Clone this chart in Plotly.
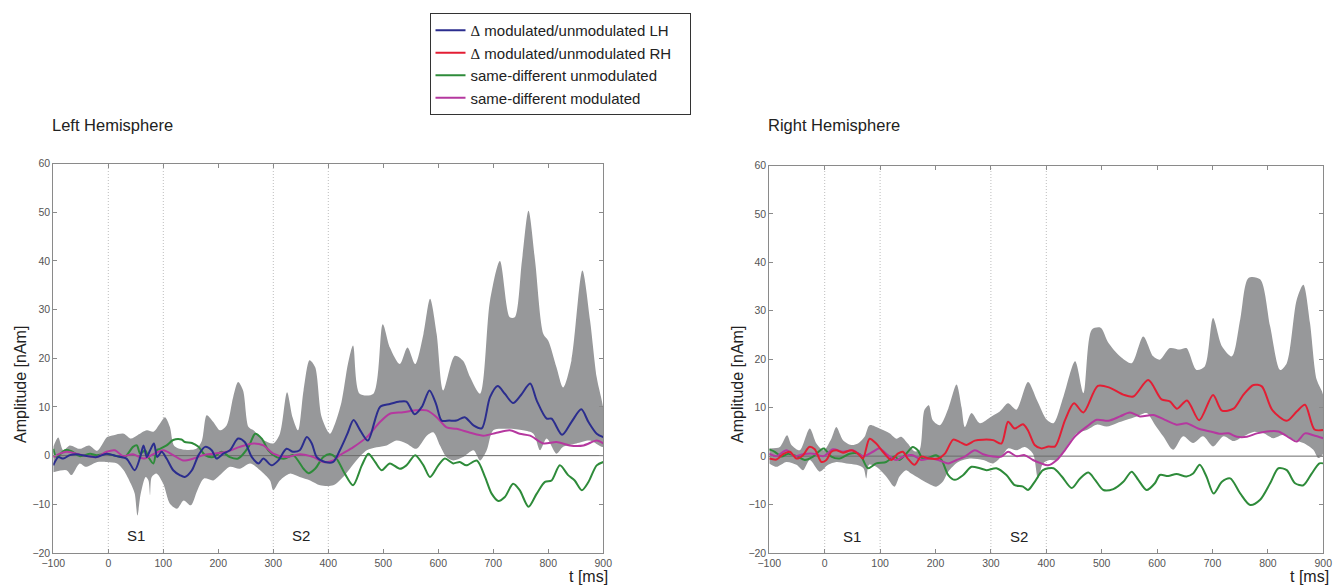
import plotly.graph_objects as go

# ---------------- data ----------------
# Left hemisphere: grey band (upper / lower bound)
lh_band_up_t = [-100, -91, -82, -70, -52, -35, -20, -2, 10, 28, 41, 53, 70, 82, 94, 103, 112, 120, 140, 160,
                170, 179, 191, 203, 215, 227, 236, 245, 255, 264, 282, 300, 312, 325, 335, 345, 355, 366, 376,
                388, 403, 412, 424, 436, 445, 457, 482, 499, 512, 530, 544, 558, 573, 585, 597, 609, 630, 645,
                658, 676, 694, 712, 730, 739, 752, 764, 776, 791, 800, 815, 827, 842, 862, 876, 888, 900]
lh_band_up_v = [1.8, 3.7, 1.1, 2.1, 1.4, 2.1, 1.0, 3.8, 4.2, 4.5, 3.5, 4.2, 5.2, 4.9, 6.6, 7.9, 5.9, 2.0, 1.2, 1.4,
                3.0, 8.3, 6.9, 5.2, 6.2, 12.0, 15.1, 13.4, 5.9, 5.2, 3.2, 2.5, 4.5, 13.0, 7.9, 5.2, 13.4, 19.6, 18.2,
                7.9, 4.5, 6.5, 11.0, 19.0, 22.6, 12.7, 12.7, 27.0, 22.2, 18.8, 22.2, 18.8, 25.0, 32.2, 25.0, 13.4, 20.5, 19.5,
                16.1, 12.7, 31.8, 40.0, 28.4, 28.4, 40.0, 50.3, 40.0, 25.0, 23.6, 18.1, 14.0, 19.5, 38.0, 27.7, 16.1, 9.5]
lh_band_lo_t = [-100, -76, -67, -52, -41, -20, -2, 16, 28, 41, 48, 53, 59, 68, 73, 76, 79, 88, 100, 112, 125, 137,
                150, 162, 174, 191, 203, 221, 239, 258, 276, 294, 300, 312, 330, 348, 367, 385, 409, 427, 451, 470,
                488, 506, 524, 542, 560, 579, 591, 603, 615, 627, 645, 664, 676, 688, 700, 724, 754, 773, 785, 797,
                815, 827, 851, 876, 900]
lh_band_lo_v = [-3.4, -3.0, -4.0, -1.6, -2.3, -1.3, -1.3, -1.6, -3.0, -5.8, -7.8, -12.3, -7.8, -4.4, -5.1, -8.2, -4.4, -3.7, -5.8, -9.9, -10.9, -9.2,
                -10.2, -7.1, -4.7, -5.1, -4.0, -2.3, -2.7, -1.6, -3.0, -5.1, -7.1, -5.1, -3.7, -4.4, -5.1, -6.1, -6.1, -4.4, -1.0, 1.1,
                1.7, 2.1, 3.1, 2.5, 1.4, 4.1, 4.8, 2.1, -0.3, -1.0, -0.3, 1.1, -1.0, 1.1, 5.2, 5.5, 5.2, 4.5, 1.1, 3.5,
                0.4, 1.8, 2.5, 3.1, 1.8]

# Left hemisphere: delta modulated/unmodulated LH (blue)
lh_delta_t = [-100, -91, -82, -70, -58, -39, -21, -3, 15, 33, 48, 58, 64, 70, 76, 83, 89, 97, 106, 118, 130, 139, 152,
              164, 176, 188, 197, 209, 221, 236, 248, 261, 273, 282, 297, 309, 324, 336, 348, 361, 370, 379, 394, 409,
              421, 434, 446, 458, 472, 494, 512, 530, 542, 557, 570, 584, 596, 606, 620, 633, 648, 664, 679, 694, 708,
              721, 736, 750, 767, 779, 797, 806, 825, 842, 860, 873, 888, 900]
lh_delta_v = [-2.0, -0.3, -0.6, 0.1, 0.3, -0.1, -0.3, 0.4, -0.1, -0.6, -3.0, -0.3, 2.1, -0.3, 1.1, 2.5, -0.3, 0.8, -0.6, -3.0, -4.0, -4.4, -3.0,
              0.1, 1.8, 1.1, -0.6, 0.4, 1.1, 3.5, 2.8, -0.3, -1.6, -0.6, -2.0, -1.0, 1.4, 0.8, 1.1, 3.8, 2.5, -0.3, -1.3, -1.3,
              1.1, 4.3, 7.3, 5.2, 3.1, 10.0, 10.6, 11.1, 11.1, 8.5, 10.0, 13.4, 10.6, 7.2, 7.2, 7.2, 7.9, 6.2, 5.6, 12.0, 14.3,
              12.7, 10.8, 12.4, 14.8, 11.3, 7.6, 7.6, 4.3, 6.9, 9.5, 6.9, 4.5, 3.8]

# Left hemisphere: same-different modulated (magenta)
lh_sdmod_t = [-100, -88, -76, -58, -39, -21, -3, 12, 27, 45, 64, 82, 100, 118, 136, 155, 173, 191, 215, 239, 264, 282,
              300, 324, 348, 373, 391, 409, 421, 445, 470, 494, 512, 536, 558, 579, 597, 615, 633, 658, 682, 706, 730,
              748, 767, 791, 815, 839, 864, 888, 900]
lh_sdmod_v = [-0.3, 0.4, 0.8, 0.4, -0.1, -0.3, 0.8, 1.1, -0.1, 0.3, -0.6, 0.3, 1.1, 0.1, -1.0, -0.6, 0.1, 0.4, 0.8, 1.8, 2.5, 2.1,
              0.4, -0.3, 0.3, -0.3, -1.3, -1.0, 0.1, 1.7, 3.8, 6.9, 8.6, 8.9, 9.3, 9.3, 7.9, 5.8, 5.5, 4.7, 4.1, 4.7, 5.2,
              4.5, 4.1, 2.5, 2.8, 2.1, 2.1, 3.1, 2.5]

# Left hemisphere: same-different unmodulated (green)
lh_sdunmod_t = [-100, -94, -79, -67, -52, -33, -21, -3, 15, 30, 45, 52, 58, 67, 73, 82, 88, 94, 106, 118, 133, 139, 152,
                164, 176, 191, 206, 221, 236, 255, 267, 279, 291, 306, 321, 336, 355, 364, 376, 391, 404, 415, 430, 445,
                461, 473, 485, 497, 512, 530, 542, 558, 573, 585, 600, 612, 627, 639, 651, 670, 685, 697, 709, 721, 736,
                748, 764, 779, 794, 806, 821, 836, 848, 861, 873, 888, 900]
lh_sdunmod_v = [1.4, -0.3, 1.1, 0.9, -0.1, 0.4, 0.1, 0.4, -0.1, -0.3, 1.8, 2.1, 0.4, 1.1, -0.3, -1.6, 1.1, 1.4, 2.1, 3.2, 3.3, 2.8, 2.6,
                1.8, 0.1, -0.3, 0.8, -0.3, -0.6, 1.8, 4.5, 3.5, 1.1, -0.3, -0.6, 0.1, -2.7, -3.6, -2.7, -0.3, 0.3, -0.6, -3.7, -6.1,
                -2.0, 0.4, -1.3, -3.0, -1.6, -2.7, -2.0, 0.1, -2.0, -4.4, -2.0, -0.6, -1.6, -1.3, -2.0, -1.0, -4.4, -7.8, -9.3, -8.5, -5.8,
                -7.1, -10.5, -7.8, -5.4, -5.1, -2.0, -4.0, -5.1, -7.1, -5.4, -2.0, -1.3]

# Right hemisphere: grey band
rh_band_up_t = [-100, -81, -68, -60, -45, -27, -15, -2, 12, 21, 33, 48, 60, 72, 81, 99, 117, 129, 138, 150, 162, 171,
                180, 188, 195, 208, 223, 238, 247, 253, 265, 280, 301, 316, 331, 346, 367, 383, 401, 413, 431, 452,
                467, 482, 498, 512, 533, 554, 575, 593, 605, 623, 641, 653, 671, 686, 701, 717, 735, 750, 765, 786,
                804, 822, 834, 852, 864, 876, 888, 900]
rh_band_up_v = [1.6, 1.9, 4.3, 2.3, 1.2, 5.7, 2.6, 1.2, 3.6, 6.0, 3.3, 2.3, 2.6, 4.0, 6.4, 5.7, 4.7, 3.6, 4.0, 2.6, 1.0, 1.2,
                9.5, 10.5, 7.4, 6.4, 9.8, 14.8, 10.1, 6.0, 8.9, 6.8, 8.2, 9.2, 10.9, 9.6, 15.3, 11.6, 7.5, 6.8, 12.3, 19.6,
                13.0, 26.1, 26.5, 23.4, 20.6, 19.2, 24.7, 20.6, 19.9, 22.3, 22.0, 22.3, 17.8, 18.5, 28.5, 22.7, 20.6, 28.2, 36.8, 36.5,
                26.8, 17.8, 19.2, 32.3, 35.4, 27.5, 15.8, 12.5]
rh_band_lo_t = [-100, -87, -69, -51, -39, -27, -9, 6, 21, 39, 57, 70, 75, 80, 93, 111, 126, 135, 147, 156, 171, 186,
                201, 213, 223, 241, 262, 286, 304, 319, 331, 346, 361, 376, 385, 394, 406, 419, 437, 455, 473, 491,
                509, 527, 545, 563, 581, 596, 611, 629, 647, 665, 683, 701, 720, 738, 756, 774, 792, 810, 828, 846,
                864, 882, 891, 900]
rh_band_lo_v = [-1.5, -2.2, -1.2, -1.8, -2.9, -0.8, -3.2, -1.8, -1.2, -1.5, -1.8, -2.5, -4.6, -1.8, -2.2, -4.2, -6.3, -4.2, -2.9, -3.6, -4.6, -5.6,
                -6.3, -5.3, -3.2, -1.2, -0.5, -0.8, -1.5, -0.1, 1.6, 1.2, 1.9, 0.5, -4.6, -1.5, -0.8, -0.8, 2.0, 4.7, 5.4, 6.5,
                6.1, 6.8, 7.5, 8.2, 8.9, 6.5, 4.1, 1.3, 4.1, 2.7, 4.1, 2.0, 4.1, 3.1, 4.1, 5.0, 4.7, 3.7, 4.4, 3.4,
                2.7, 1.3, -0.4, 0.6]

# Right hemisphere: delta modulated/unmodulated RH (red)
rh_delta_t = [-100, -87, -75, -63, -51, -39, -28, -18, -6, 3, 12, 21, 33, 48, 60, 69, 81, 93, 105, 120, 132, 141, 150,
              162, 174, 189, 205, 217, 232, 244, 256, 271, 286, 304, 319, 331, 343, 358, 367, 379, 391, 404, 416, 434,
              450, 467, 493, 515, 539, 557, 584, 608, 623, 636, 654, 676, 701, 717, 738, 756, 774, 789, 808, 834, 852,
              867, 884, 900]
rh_delta_v = [-0.5, -0.7, 0.4, 0.9, -0.5, 0.2, 1.9, 1.4, -1.2, -0.8, 0.9, 1.2, 0.7, 1.2, 0.5, -0.5, 3.6, 2.6, 0.9, -0.8, 0.5, 0.9, -0.5,
              -1.8, -0.1, -0.5, -0.5, 0.5, 3.4, 2.9, 2.3, 3.2, 3.4, 3.3, 2.6, 7.1, 5.7, 6.6, 5.3, 2.3, 1.6, 2.0, 2.0, 7.5,
              10.9, 9.0, 14.5, 14.1, 12.7, 12.3, 15.7, 11.7, 11.3, 9.8, 11.5, 7.4, 12.6, 9.4, 9.8, 12.7, 14.7, 14.4, 9.5, 7.3, 9.2,
              10.6, 5.5, 5.4]

# Right hemisphere: same-different modulated (magenta)
rh_sdmod_t = [-100, -87, -69, -54, -39, -21, -2, 15, 33, 51, 69, 87, 99, 114, 129, 144, 159, 174, 189, 205, 223, 238,
              253, 271, 286, 304, 319, 331, 346, 361, 376, 391, 403, 419, 434, 452, 473, 491, 512, 533, 551, 569, 593,
              614, 635, 653, 674, 696, 714, 729, 744, 762, 780, 798, 819, 840, 852, 867, 882, 900]
rh_sdmod_v = [0.5, 0.0, 1.2, 0.0, 0.4, 0.5, 0.0, 1.4, 0.9, 1.2, 0.0, 0.9, 1.6, 0.2, -0.8, 0.0, 0.2, -0.8, -0.5, -0.8, -1.5, -0.8,
              -0.1, 1.2, 0.4, -0.1, -0.1, 0.9, 0.0, 0.2, -0.8, -1.5, -1.9, -0.8, 1.3, 4.1, 6.1, 7.5, 7.3, 8.2, 9.0, 8.2, 8.5,
              7.5, 6.5, 6.8, 5.7, 5.1, 4.6, 4.7, 4.0, 4.0, 4.7, 5.1, 5.1, 3.7, 3.0, 4.7, 4.3, 3.7]

# Right hemisphere: same-different unmodulated (green)
rh_sdunmod_t = [-100, -90, -78, -66, -51, -36, -21, -2, 12, 27, 45, 63, 78, 93, 111, 126, 135, 147, 159, 168, 177, 189,
                201, 211, 223, 235, 250, 265, 280, 292, 310, 328, 343, 358, 367, 379, 394, 413, 428, 446, 461, 476,
                488, 503, 521, 539, 554, 566, 581, 596, 605, 620, 635, 653, 665, 677, 689, 702, 717, 732, 750, 768,
                786, 804, 819, 834, 849, 864, 879, 893, 900]
rh_sdunmod_v = [1.4, 0.9, -0.1, 0.5, 0.0, -0.8, -0.1, 1.6, -0.1, -0.5, 0.5, 0.4, -2.5, -1.5, -1.2, -0.1, -0.8, 0.5, 1.9, 1.2, -0.5, -0.3,
                0.2, -0.8, -3.9, -4.9, -3.9, -2.2, -2.5, -2.9, -2.5, -3.9, -6.0, -6.3, -7.0, -5.3, -2.9, -2.5, -4.2, -6.6, -4.6, -3.4,
                -4.9, -7.0, -6.8, -5.3, -3.2, -4.9, -7.0, -5.6, -3.9, -4.1, -3.7, -4.2, -3.6, -1.8, -4.2, -7.7, -5.3, -4.6, -7.7, -10.1,
                -9.0, -5.6, -2.5, -2.9, -5.6, -6.0, -3.6, -1.5, -1.5]

# axes / labels
x_range = [-100, 900]
y_range = [-20, 60]
x_ticks = list(range(-100, 901, 100))
y_ticks = list(range(-20, 61, 10))
event_times = [0, 100, 300, 400]
stim_labels = ["S1", "S2"]
stim_label_t = [50, 350]
stim_label_v = -16.5

legend_names = [
    "<span style='font-family:Liberation Serif'>\u0394</span> modulated/unmodulated LH",
    "<span style='font-family:Liberation Serif'>\u0394</span> modulated/unmodulated RH&nbsp;&nbsp;&nbsp;",
    "same-different unmodulated",
    "same-different modulated",
]

# ---------------- style ----------------
FONT = "Liberation Sans, Arial, sans-serif"
BAND = "#97989a"
BLUE = "#2b2d8e"
RED = "#e31e34"
GREEN = "#2e8b3a"
MAGENTA = "#b5389f"
AXC = "#8a8a8a"

fig = go.Figure()


def band(t_up, v_up, t_lo, v_lo, xa, ya):
    fig.add_trace(go.Scatter(
        x=t_up + t_lo[::-1], y=v_up + v_lo[::-1],
        fill="toself", fillcolor=BAND, mode="lines",
        line=dict(width=0, color=BAND, shape="spline", smoothing=0.8),
        showlegend=False, hoverinfo="skip", xaxis=xa, yaxis=ya))


def zero_line(xa, ya):
    fig.add_trace(go.Scatter(x=x_range, y=[0, 0], mode="lines",
                             line=dict(color="#6b6b6b", width=1),
                             showlegend=False, hoverinfo="skip", xaxis=xa, yaxis=ya))


def curve(t, v, name, color, xa, ya, show, rank):
    fig.add_trace(go.Scatter(
        x=t, y=v, name=name, mode="lines",
        line=dict(color=color, width=2, shape="spline", smoothing=0.8),
        showlegend=show, legendrank=rank, xaxis=xa, yaxis=ya))


# left panel
band(lh_band_up_t, lh_band_up_v, lh_band_lo_t, lh_band_lo_v, "x", "y")
zero_line("x", "y")
curve(lh_sdunmod_t, lh_sdunmod_v, legend_names[2], GREEN, "x", "y", True, 3)
curve(lh_sdmod_t, lh_sdmod_v, legend_names[3], MAGENTA, "x", "y", True, 4)
curve(lh_delta_t, lh_delta_v, legend_names[0], BLUE, "x", "y", True, 1)

# right panel
band(rh_band_up_t, rh_band_up_v, rh_band_lo_t, rh_band_lo_v, "x2", "y2")
zero_line("x2", "y2")
curve(rh_sdunmod_t, rh_sdunmod_v, legend_names[2], GREEN, "x2", "y2", False, 3)
curve(rh_sdmod_t, rh_sdmod_v, legend_names[3], MAGENTA, "x2", "y2", False, 4)
curve(rh_delta_t, rh_delta_v, legend_names[1], RED, "x2", "y2", True, 2)

W, H = 1339, 586
axis_common = dict(showline=True, linecolor=AXC, linewidth=1, mirror="allticks",
                   ticks="inside", ticklen=4, tickcolor=AXC, showgrid=False, zeroline=False,
                   tickfont=dict(family=FONT, size=10.5, color="#555555"), automargin=False)

left_x = [53.3 / W, 603.3 / W]
right_x = [769.3 / W, 1323.3 / W]
dom_y = [(H - 553) / H, (H - 163.5) / H]
dom_y2 = [(H - 553) / H, (H - 165.5) / H]

fig.update_layout(
    width=W, height=H,
    margin=dict(l=0, r=0, t=0, b=0),
    paper_bgcolor="white", plot_bgcolor="white",
    font=dict(family=FONT, color="#222222"),
    xaxis=dict(domain=left_x, range=x_range, tickvals=x_ticks, anchor="y", **axis_common),
    yaxis=dict(domain=dom_y, range=y_range, tickvals=y_ticks, anchor="x", **axis_common),
    xaxis2=dict(domain=right_x, range=x_range, tickvals=x_ticks, anchor="y2", **axis_common),
    yaxis2=dict(domain=dom_y2, range=y_range, tickvals=y_ticks, anchor="x2", **axis_common),
    legend=dict(x=429.5 / W, y=1 - 13 / H, xanchor="left", yanchor="top",
                bordercolor="#333333", borderwidth=1, bgcolor="white",
                font=dict(family=FONT, size=15, color="#222222"),
                itemwidth=30, tracegroupgap=0, traceorder="normal"),
    showlegend=True,
)

shapes = []
for xa, ya in (("x", "y"), ("x2", "y2")):
    for et in event_times:
        shapes.append(dict(type="line", xref=xa, yref=f"{ya} domain", x0=et, x1=et, y0=0, y1=1,
                           line=dict(color="#bdbdbd", width=1, dash="1px,2px"), layer="below"))
fig.update_layout(shapes=shapes)

ann = []
for xa, ya in (("x", "y"), ("x2", "y2")):
    for lab, t in zip(stim_labels, stim_label_t):
        ann.append(dict(x=t, y=stim_label_v, xref=xa, yref=ya, text=lab, showarrow=False,
                        font=dict(family=FONT, size=15, color="#222222")))
ann += [
    dict(x=50 / W, y=1 - 125 / H, xref="paper", yref="paper", text="Left Hemisphere", showarrow=False,
         xanchor="left", yanchor="middle", font=dict(family=FONT, size=16.5, color="#222222")),
    dict(x=766 / W, y=1 - 125 / H, xref="paper", yref="paper", text="Right Hemisphere", showarrow=False,
         xanchor="left", yanchor="middle", font=dict(family=FONT, size=16.5, color="#222222")),
    dict(x=20 / W, y=1 - 385 / H, xref="paper", yref="paper", text="Amplitude [nAm]", showarrow=False,
         textangle=-90, xanchor="center", yanchor="middle", font=dict(family=FONT, size=16, color="#222222")),
    dict(x=737 / W, y=1 - 385 / H, xref="paper", yref="paper", text="Amplitude [nAm]", showarrow=False,
         textangle=-90, xanchor="center", yanchor="middle", font=dict(family=FONT, size=16, color="#222222")),
    dict(x=588 / W, y=1 - 576 / H, xref="paper", yref="paper", text="t [ms]", showarrow=False,
         xanchor="center", yanchor="middle", font=dict(family=FONT, size=16, color="#222222")),
    dict(x=1309 / W, y=1 - 576 / H, xref="paper", yref="paper", text="t [ms]", showarrow=False,
         xanchor="center", yanchor="middle", font=dict(family=FONT, size=16, color="#222222")),
]
fig.update_layout(annotations=ann)

fig.write_html("out.html", config={"displayModeBar": False},
               post_script="document.body.style.margin='0';document.body.style.overflow='hidden';")
